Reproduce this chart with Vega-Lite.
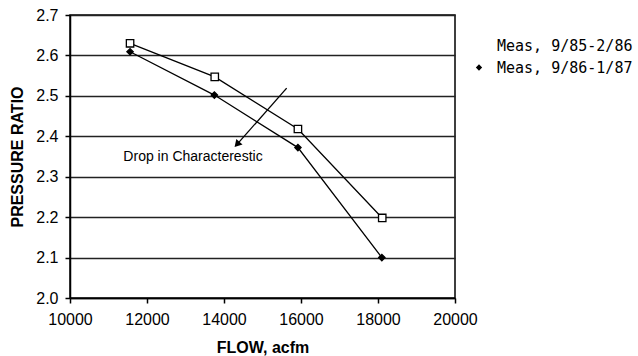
{
  "$schema": "https://vega.github.io/schema/vega-lite/v6.json",
  "width": 385,
  "height": 283,
  "autosize": "none",
  "padding": {"left": 70, "top": 15, "right": 183, "bottom": 58},
  "background": "white",
  "config": {
    "font": "Liberation Sans",
    "view": {"stroke": "black", "strokeWidth": 1.5},
    "axis": {
      "domainColor": "black", "domainWidth": 1.5, "tickColor": "black", "tickWidth": 1.5,
      "labelColor": "black", "labelFontSize": 16, "labelFont": "Liberation Sans",
      "titleColor": "black", "titleFontSize": 16, "titleFontWeight": "bold", "titleFont": "Liberation Sans",
      "tickSize": 5, "labelFlush": false
    },
    "axisX": {"grid": false, "labelPadding": 8, "titlePadding": 12},
    "axisY": {"grid": true, "gridColor": "#222", "gridWidth": 1.4, "labelPadding": 7, "titlePadding": 10},
    "legend": {
      "orient": "none", "legendX": 399, "legendY": 21,
      "labelFont": "DejaVu Sans Mono", "labelFontSize": 15, "labelColor": "black",
      "labelOffset": 8, "rowPadding": 3.5, "symbolSize": 324, "symbolStrokeWidth": 1.4,
      "symbolStrokeColor": "black", "labelLimit": 300
    }
  },
  "datasets": {
    "meas": [
      {"series": "Meas, 9/85-2/86", "flow": 11560, "pr": 2.630},
      {"series": "Meas, 9/85-2/86", "flow": 13760, "pr": 2.547},
      {"series": "Meas, 9/85-2/86", "flow": 15920, "pr": 2.418},
      {"series": "Meas, 9/85-2/86", "flow": 18110, "pr": 2.198},
      {"series": "Meas, 9/86-1/87", "flow": 11560, "pr": 2.609},
      {"series": "Meas, 9/86-1/87", "flow": 13750, "pr": 2.502},
      {"series": "Meas, 9/86-1/87", "flow": 15920, "pr": 2.372},
      {"series": "Meas, 9/86-1/87", "flow": 18100, "pr": 2.100}
    ],
    "arrow": [
      {"flow": 15628, "pr": 2.519, "flow2": 14338, "pr2": 2.380}
    ],
    "note": [
      {"flow": 13195, "pr": 2.349, "label": "Drop in Characterestic"}
    ]
  },
  "layer": [
    {
      "data": {"name": "meas"},
      "mark": {"type": "line", "color": "black", "strokeWidth": 1.3},
      "encoding": {
        "x": {"field": "flow", "type": "quantitative", "scale": {"domain": [10000, 20000], "nice": false}, "axis": {"title": "FLOW, acfm", "values": [10000, 12000, 14000, 16000, 18000, 20000], "format": "d"}},
        "y": {"field": "pr", "type": "quantitative", "scale": {"domain": [2.0, 2.7], "nice": false, "zero": false}, "axis": {"title": "PRESSURE RATIO", "values": [2.0, 2.1, 2.2, 2.3, 2.4, 2.5, 2.6, 2.7], "format": ".1f"}},
        "detail": {"field": "series", "type": "nominal"}
      }
    },
    {
      "data": {"name": "meas"},
      "mark": {"type": "point", "filled": true, "stroke": "black", "strokeWidth": 1.4, "size": 324},
      "encoding": {
        "x": {"field": "flow", "type": "quantitative", "scale": {"domain": [10000, 20000], "nice": false}, "axis": {"title": "FLOW, acfm", "values": [10000, 12000, 14000, 16000, 18000, 20000], "format": "d"}},
        "y": {"field": "pr", "type": "quantitative", "scale": {"domain": [2.0, 2.7], "nice": false, "zero": false}, "axis": {"title": "PRESSURE RATIO", "values": [2.0, 2.1, 2.2, 2.3, 2.4, 2.5, 2.6, 2.7], "format": ".1f"}},
        "shape": {
          "field": "series", "type": "nominal", "title": null,
          "scale": {"domain": ["Meas, 9/85-2/86", "Meas, 9/86-1/87"], "range": ["M-1,0H-0.4M0.4,0H1M-0.4,-0.4H0.4V0.4H-0.4Z", "M-1,0H1M0,-0.35L0.35,0L0,0.35L-0.35,0Z"]},
          "legend": {"title": null}
        },
        "fill": {
          "field": "series", "type": "nominal", "title": null,
          "scale": {"domain": ["Meas, 9/85-2/86", "Meas, 9/86-1/87"], "range": ["white", "black"]},
          "legend": {"title": null}
        },
        "opacity": {"condition": {"test": "false", "value": 1}, "value": 0}
      }
    },
    {
      "data": {"name": "meas"},
      "mark": {"type": "point", "filled": true, "stroke": "black", "strokeWidth": 1.3, "opacity": 1},
      "encoding": {
        "x": {"field": "flow", "type": "quantitative", "scale": {"domain": [10000, 20000], "nice": false}, "axis": {"title": "FLOW, acfm", "values": [10000, 12000, 14000, 16000, 18000, 20000], "format": "d"}},
        "y": {"field": "pr", "type": "quantitative", "scale": {"domain": [2.0, 2.7], "nice": false, "zero": false}, "axis": {"title": "PRESSURE RATIO", "values": [2.0, 2.1, 2.2, 2.3, 2.4, 2.5, 2.6, 2.7], "format": ".1f"}},
        "shape": {"condition": {"test": "datum.series === 'Meas, 9/85-2/86'", "value": "square"}, "value": "diamond"},
        "fill": {"condition": {"test": "datum.series === 'Meas, 9/85-2/86'", "value": "white"}, "value": "black"},
        "size": {"condition": {"test": "datum.series === 'Meas, 9/85-2/86'", "value": 55}, "value": 40}
      }
    },
    {
      "data": {"name": "arrow"},
      "mark": {"type": "rule", "color": "black", "strokeWidth": 1.3},
      "encoding": {
        "x": {"field": "flow", "type": "quantitative"},
        "y": {"field": "pr", "type": "quantitative"},
        "x2": {"field": "flow2"},
        "y2": {"field": "pr2"}
      }
    },
    {
      "data": {"name": "arrow"},
      "mark": {"type": "point", "shape": "triangle-up", "filled": true, "color": "black", "size": 70, "angle": 222, "opacity": 1},
      "encoding": {
        "x": {"field": "flow2", "type": "quantitative"},
        "y": {"field": "pr2", "type": "quantitative"}
      }
    },
    {
      "data": {"name": "note"},
      "mark": {"type": "text", "font": "Liberation Sans", "fontSize": 14, "color": "black", "align": "center", "baseline": "middle"},
      "encoding": {
        "x": {"field": "flow", "type": "quantitative"},
        "y": {"field": "pr", "type": "quantitative"},
        "text": {"field": "label"}
      }
    }
  ]
}
